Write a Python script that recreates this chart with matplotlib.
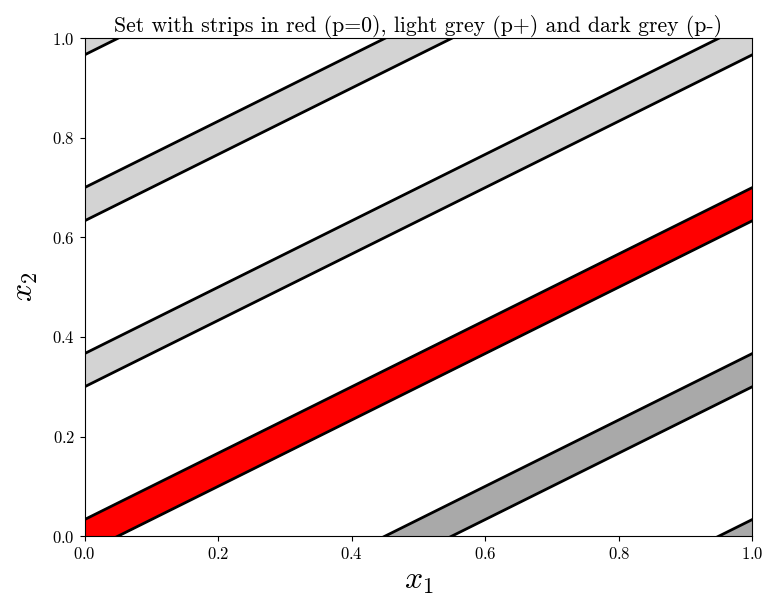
import numpy as np
import matplotlib
matplotlib.use("Agg")
import matplotlib.pyplot as plt

plt.rcParams['font.family'] = 'serif'
plt.rcParams['font.serif'] = ['cmr10', 'DejaVu Serif']
plt.rcParams['mathtext.fontset'] = 'cm'
plt.rcParams['axes.formatter.use_mathtext'] = True

# strips y = slope*x + c +/- half
slope = 2 / 3
half = 1 / 30
centers = [-2/3, -1/3, 0.0, 1/3, 2/3, 1.0]
colors = ["darkgrey", "darkgrey", "red", "lightgrey", "lightgrey", "lightgrey"]

fig, ax = plt.subplots(figsize=(7.63, 5.97), dpi=100)
fig.subplots_adjust(left=0.111, right=0.986, top=0.936, bottom=0.102)

x = np.linspace(0, 1, 200)
for c, col in zip(centers, colors):
    lo = slope * x + c - half
    hi = slope * x + c + half
    ax.fill_between(x, lo, hi, color=col, lw=0)
    ax.plot(x, lo, color="black", lw=2)
    ax.plot(x, hi, color="black", lw=2)

ax.set_xlim(0, 1)
ax.set_ylim(0, 1)
ax.set_xlabel(r"$x_1$", fontsize=23, labelpad=5)
ax.set_ylabel(r"$x_2$", fontsize=23, labelpad=9)
ax.tick_params(labelsize=12)
ax.set_title("Set with strips in red (p=0), light grey (p+) and dark grey (p-)", fontsize=15.7, pad=4)

fig.savefig("out.png", dpi=100)
